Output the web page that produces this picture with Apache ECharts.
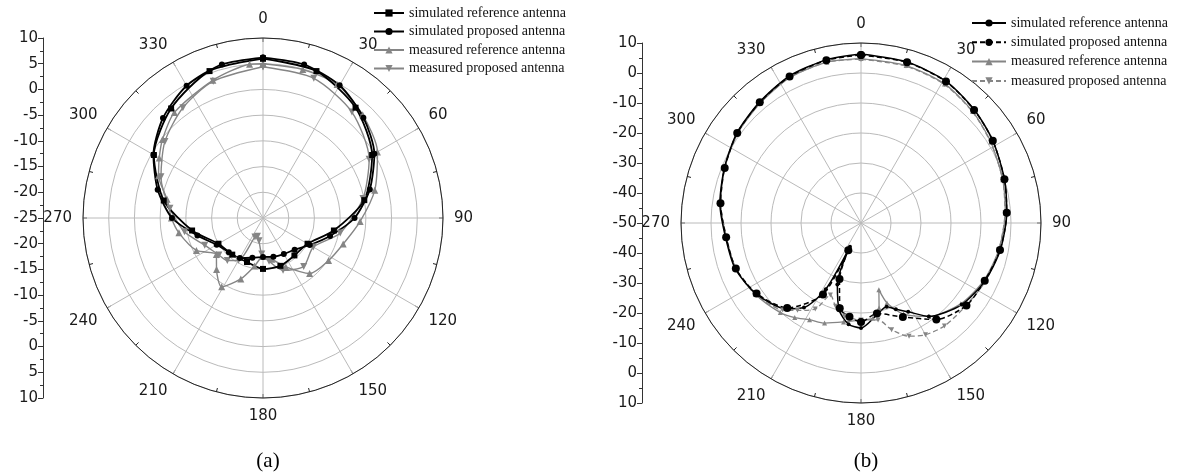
<!DOCTYPE html>
<html>
<head>
<meta charset="utf-8">
<script src="https://cdn.jsdelivr.net/npm/echarts@6/dist/echarts.min.js"></script>
<style>
html,body{margin:0;padding:0;background:#fff;}
#c{width:1177px;height:473px;}
</style>
</head>
<body>
<div id="c"></div>
<script>
// ---------- tick labels ----------
const angleTicks = [0,30,60,90,120,150,180,210,240,270,300,330];
const radialTicksA = [10,5,0,-5,-10,-15,-20,-25,-20,-15,-10,-5,0,5,10];
const radialTicksB = [10,0,-10,-20,-30,-40,-50,-40,-30,-20,-10,0,10];

// ---------- legend names ----------
const seriesNames = ['simulated reference antenna','simulated proposed antenna','measured reference antenna','measured proposed antenna'];

// ---------- chart (a) data : angle (deg) / gain (dB) ----------
const angRefSimA = [0,20,40,60,80,100,120,140,160,180,200,220,240,260,280,300,320,340,360];
const valRefSimA = [6.0,5.4,3.0,-0.5,-5.0,-11.0,-15.0,-15.5,-15.1,-15.1,-15.9,-15.7,-15.0,-11.0,-5.4,-0.5,2.8,5.4,6.0];

const angPropSimA = [0,15,30,45,60,75,90,105,120,135,150,165,180,195,210,225,240,255,270,285,300,315,330,345,360];
const valPropSimA = [6.2,5.9,4.8,2.6,0.0,-3.5,-7.2,-11.5,-14.5,-16.3,-16.9,-17.2,-17.4,-17.0,-16.0,-15.6,-14.6,-11.8,-7.3,-3.8,-0.4,2.5,4.7,5.9,6.2];

const angRefMeasA = [0,15,29,44,60,76,92,108,123,140,155,168,180,190,200,211,222,232,244,260,270,281,292,300,308,320,340,355,360];
const valRefMeasA = [5.0,4.9,4.7,2.9,0.7,-2.6,-6.1,-8.6,-9.8,-10.9,-14.5,-16.8,-17.5,-15.5,-12.4,-9.4,-11.5,-13.5,-10.6,-8.4,-7.2,-6.0,-3.1,-1.7,-0.2,1.8,3.5,5.0,5.0];

const angPropMeasA = [0,20,40,61,79,101,120,140,159,172,182,190,197,203,210,220,230,245,260,276,292,308,324,340,360];
const valPropMeasA = [4.4,3.9,1.9,-1.4,-5.2,-9.7,-13.7,-12.7,-14.1,-16.5,-18.0,-20.5,-21.3,-21.0,-15.5,-14.2,-13.8,-12.5,-9.5,-6.8,-3.6,-0.8,1.5,3.3,4.4];

// ---------- chart (b) data ----------
const angRefSimB = [0,16,31,45,58,73,86,101,115,129,144,152,158,163,170,180,187,194,201,205,208,214,221,236,250,264,278,292,306,320,334,348,360];
const valRefSimB = [6.3,5.8,5.1,3.4,1.8,0.0,-1.3,-2.7,-4.4,-6.8,-11.5,-16.5,-19.0,-20.8,-19.0,-15.0,-16.0,-20.0,-28.0,-41.3,-25.0,-16.0,-12.1,-7.8,-5.4,-4.6,-2.5,-0.9,1.1,2.6,4.5,5.6,6.3];

const angPropSimB = [0,16,31,45,58,73,86,101,115,128,142,156,170,180,187,194,201,205,208,221,236,250,264,278,292,306,320,334,348,360];
const valPropSimB = [6.0,5.7,5.0,3.3,1.8,0.0,-1.3,-2.8,-4.5,-5.4,-9.2,-15.7,-19.4,-17.0,-18.5,-20.7,-30.0,-40.0,-23.0,-12.5,-8.0,-5.6,-4.8,-2.7,-1.0,1.0,2.5,4.3,5.5,6.0];

const angRefMeasB = [0,16,31,45,58,73,86,101,115,129,144,155,162,165,168,173,180,190,200,208,215,222,236,250,264,278,292,306,320,334,348,360];
const valRefMeasB = [4.8,4.6,4.1,2.6,1.0,-0.6,-1.8,-3.2,-4.8,-7.2,-11.5,-16.5,-22.0,-27.0,-21.0,-18.0,-17.7,-16.5,-14.5,-13.5,-11.5,-9.8,-7.5,-5.6,-4.8,-2.8,-1.0,0.8,2.2,4.0,4.8,4.8];

const angPropMeasB = [0,16,31,45,58,73,86,101,115,129,141,150,157,164,170,180,190,197,203,208,216,222,236,250,264,278,292,306,320,334,348,360];
const valPropMeasB = [4.6,4.4,3.9,2.5,0.9,-0.6,-1.9,-3.2,-4.2,-5.5,-5.8,-7.0,-9.0,-13.0,-17.2,-17.7,-18.5,-21.0,-23.9,-17.5,-14.0,-11.0,-7.5,-5.6,-4.9,-2.8,-1.0,0.9,2.4,4.0,4.8,4.6];

// ---------- build ----------
const pair = (ang, val) => ang.map((a, i) => [val[i], a]);
const TICK_FONT = 'DejaVu Sans';
const SERIF = 'Liberation Serif, Times New Roman, serif';
const BLACK = '#000000';
const GREY = '#858585';
const GRID_GREY = '#bababa';
const downTri = 'path://M0,0L10,0L5,9Z';

function polarAxes(idx, min, max, interval) {
  return {
    angle: {
      polarIndex: idx, type: 'value', min: 0, max: 360, interval: 30,
      startAngle: 90, clockwise: true,
      axisLine: { show: true, lineStyle: { color: '#222', width: 1 } },
      axisTick: { show: true, inside: true, length: 4, lineStyle: { color: '#222' } },
      minorTick: { show: true, splitNumber: 2, length: 4, lineStyle: { color: '#222' } },
      splitLine: { show: true, lineStyle: { color: GRID_GREY, width: 1 } },
      axisLabel: {
        margin: 11, color: '#1a1a1a', fontFamily: TICK_FONT, fontSize: 15,
        formatter: v => (angleTicks.indexOf(v) >= 0 ? String(v) : '')
      }
    },
    radius: {
      polarIndex: idx, type: 'value', min: min, max: max, interval: interval,
      axisLine: { show: false }, axisTick: { show: false }, axisLabel: { show: false },
      splitLine: { show: true, lineStyle: { color: GRID_GREY, width: 1 } }
    }
  };
}

const pa = polarAxes(0, -25, 10, 5);
const pb = polarAxes(1, -50, 10, 10);

function sideAxis(gridIdx, labels) {
  return {
    gridIndex: gridIdx, type: 'value', min: 0, max: labels.length - 1, interval: 1, inverse: true,
    position: 'left',
    axisLine: { show: true, lineStyle: { color: '#333', width: 1 } },
    axisTick: { show: true, length: 5, lineStyle: { color: '#333' } },
    minorTick: { show: true, splitNumber: 2, length: 3, lineStyle: { color: '#333' } },
    splitLine: { show: false },
    axisLabel: { margin: 5, color: '#1a1a1a', fontFamily: TICK_FONT, fontSize: 15,
      formatter: v => (labels[v] !== undefined ? String(labels[v]) : '') }
  };
}

function lineSeries(name, polarIdx, ang, val, color, symbol, size, width, dashed) {
  return {
    type: 'line', name: name, coordinateSystem: 'polar', polarIndex: polarIdx,
    data: pair(ang, val), smooth: 0.25,
    symbol: symbol, symbolSize: size, showSymbol: true,
    lineStyle: { color: color, width: width, type: dashed ? [5, 3] : 'solid' },
    itemStyle: { color: color, borderWidth: 0 },
    animation: false, z: 5
  };
}

const namesB = seriesNames.map(n => n + ' (b)');

const option = {
  backgroundColor: '#ffffff',
  animation: false,
  title: [
    { text: '(a)', left: 263, top: 446, textAlign: 'center',
      textStyle: { fontFamily: SERIF, fontSize: 21, fontWeight: 'normal', color: '#000' } },
    { text: '(b)', left: 861, top: 446, textAlign: 'center',
      textStyle: { fontFamily: SERIF, fontSize: 21, fontWeight: 'normal', color: '#000' } }
  ],
  legend: [
    { data: seriesNames.slice(), orient: 'vertical', left: 368, top: 1, itemWidth: 30, itemHeight: 9, itemGap: 4.5,
      selectedMode: false,
      textStyle: { fontFamily: SERIF, fontSize: 14, color: '#111' } },
    { data: namesB.slice(), orient: 'vertical', left: 966, top: 11, itemWidth: 34, itemHeight: 9, itemGap: 5.3,
      selectedMode: false, formatter: n => n.replace(' (b)', ''),
      textStyle: { fontFamily: SERIF, fontSize: 14, color: '#111' } }
  ],
  polar: [
    { center: [263, 218], radius: 180 },
    { center: [861, 223], radius: 180 }
  ],
  angleAxis: [pa.angle, pb.angle],
  radiusAxis: [pa.radius, pb.radius],
  grid: [
    { left: 43, top: 38, width: 10, height: 360 },
    { left: 642, top: 43, width: 10, height: 360 }
  ],
  xAxis: [
    { gridIndex: 0, type: 'value', show: false, min: 0, max: 1 },
    { gridIndex: 1, type: 'value', show: false, min: 0, max: 1 }
  ],
  yAxis: [sideAxis(0, radialTicksA), sideAxis(1, radialTicksB)],
  series: [
    lineSeries(seriesNames[2], 0, angRefMeasA, valRefMeasA, GREY, 'triangle', 7, 1.4, false),
    lineSeries(seriesNames[3], 0, angPropMeasA, valPropMeasA, GREY, downTri, 7, 1.4, false),
    lineSeries(seriesNames[0], 0, angRefSimA, valRefSimA, BLACK, 'rect', 6, 1.8, false),
    lineSeries(seriesNames[1], 0, angPropSimA, valPropSimA, BLACK, 'circle', 6, 1.8, false),
    lineSeries(namesB[2], 1, angRefMeasB, valRefMeasB, GREY, 'triangle', 5, 1.3, false),
    lineSeries(namesB[3], 1, angPropMeasB, valPropMeasB, GREY, downTri, 5, 1.3, true),
    lineSeries(namesB[0], 1, angRefSimB, valRefSimB, BLACK, 'circle', 4, 1.5, false),
    lineSeries(namesB[1], 1, angPropSimB, valPropSimB, BLACK, 'circle', 8, 1.5, true)
  ]
};

const chart = echarts.init(document.getElementById('c'), null, { renderer: 'canvas' });
chart.setOption(option);
</script>
</body>
</html>
